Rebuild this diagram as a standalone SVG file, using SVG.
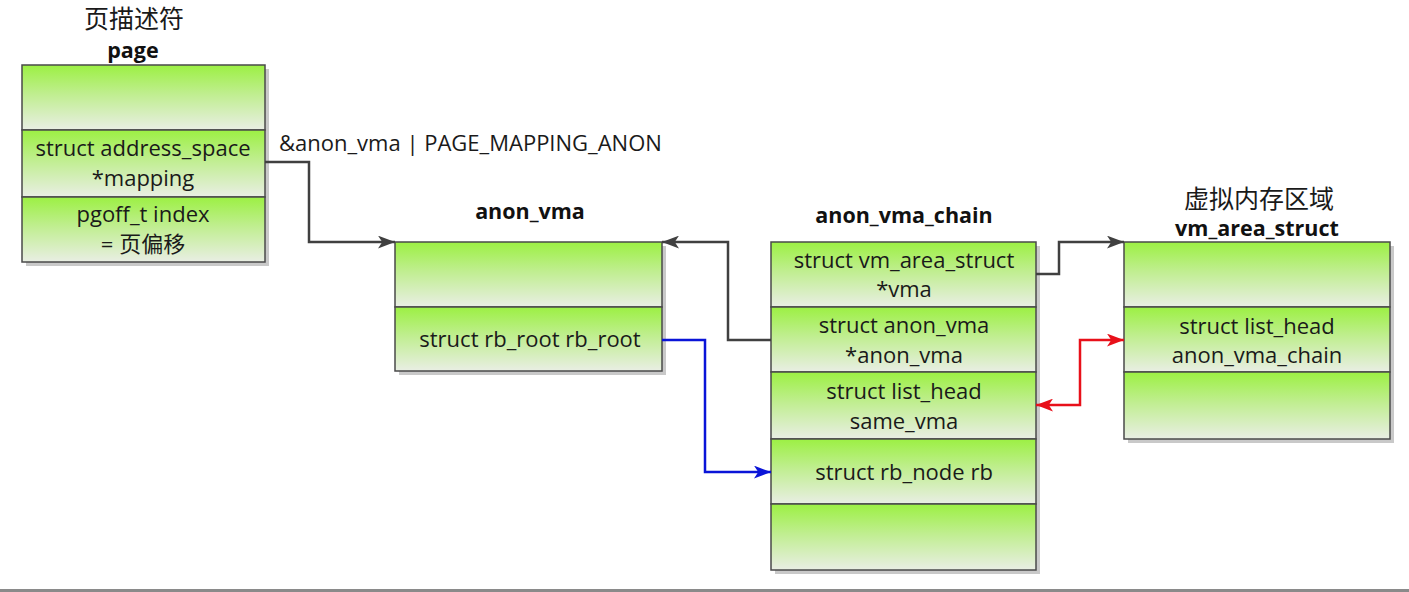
<svg xmlns="http://www.w3.org/2000/svg" width="1409" height="592" viewBox="0 0 1409 592">
<defs>
<linearGradient id="g" x1="0" y1="0" x2="0" y2="1">
<stop offset="0" stop-color="#9cf043"/>
<stop offset="0.45" stop-color="#c0ee90"/>
<stop offset="1" stop-color="#e9eee4"/>
</linearGradient>
<marker id="ahd" viewBox="0 0 16 12" refX="16" refY="6" markerWidth="17" markerHeight="13" markerUnits="userSpaceOnUse" orient="auto-start-reverse">
<path d="M0,0 L16,6 L0,12 L4,6 Z" fill="#404040"/>
</marker>
<marker id="ahb" viewBox="0 0 16 12" refX="16" refY="6" markerWidth="17" markerHeight="13" markerUnits="userSpaceOnUse" orient="auto-start-reverse">
<path d="M0,0 L16,6 L0,12 L4,6 Z" fill="#0a14d8"/>
</marker>
<marker id="ahr" viewBox="0 0 16 12" refX="16" refY="6" markerWidth="17" markerHeight="13" markerUnits="userSpaceOnUse" orient="auto-start-reverse">
<path d="M0,0 L16,6 L0,12 L4,6 Z" fill="#e8101a"/>
</marker>
</defs>
<style>
.sh{fill:#c9c9c9}
.cell{fill:url(#g);stroke:#4a4a4a;stroke-width:1.5}
.t{font-family:"Open Sans","Liberation Sans","Noto Sans CJK SC",sans-serif;font-size:22px;fill:#1a1a1a;text-anchor:middle}
.b{font-family:"Open Sans","Liberation Sans","Noto Sans CJK SC",sans-serif;font-size:21.5px;font-weight:bold;fill:#111;text-anchor:middle}
.c{font-family:"Noto Sans CJK SC",sans-serif;font-size:25px;fill:#1a1a1a;text-anchor:middle}
.w{fill:none;stroke-width:2.5}
</style>
<rect width="1409" height="592" fill="#fff"/>

<g id="page">
<rect class="sh" x="26" y="69" width="243" height="197"/>
<rect class="cell" x="22" y="65" width="243" height="65"/>
<rect class="cell" x="22" y="130" width="243" height="67"/>
<rect class="cell" x="22" y="197" width="243" height="65"/>
<text class="c" x="134" y="28">页描述符</text>
<text class="b" x="133" y="58">page</text>
<text class="t" x="143" y="156">struct address_space</text>
<text class="t" x="143" y="186">*mapping</text>
<text class="t" x="143" y="222">pgoff_t index</text>
<text class="t" x="143" y="252">= 页偏移</text>
</g>

<g id="anon_vma">
<rect class="sh" x="399" y="246" width="267" height="129"/>
<rect class="cell" x="395" y="242" width="267" height="65"/>
<rect class="cell" x="395" y="307" width="267" height="64"/>
<text class="b" x="530" y="219">anon_vma</text>
<text class="t" x="530" y="347">struct rb_root rb_root</text>
</g>

<g id="anon_vma_chain">
<rect class="sh" x="775" y="246" width="265" height="328"/>
<rect class="cell" x="771" y="242" width="265" height="65"/>
<rect class="cell" x="771" y="307" width="265" height="65"/>
<rect class="cell" x="771" y="372" width="265" height="67"/>
<rect class="cell" x="771" y="439" width="265" height="65"/>
<rect class="cell" x="771" y="504" width="265" height="66"/>
<text class="b" x="904" y="223">anon_vma_chain</text>
<text class="t" x="904" y="268">struct vm_area_struct</text>
<text class="t" x="904" y="297">*vma</text>
<text class="t" x="904" y="333">struct anon_vma</text>
<text class="t" x="904" y="363">*anon_vma</text>
<text class="t" x="904" y="399">struct list_head</text>
<text class="t" x="904" y="429">same_vma</text>
<text class="t" x="904" y="480">struct rb_node rb</text>
</g>

<g id="vm_area_struct">
<rect class="sh" x="1128" y="246" width="266" height="197"/>
<rect class="cell" x="1124" y="242" width="266" height="65"/>
<rect class="cell" x="1124" y="307" width="266" height="65"/>
<rect class="cell" x="1124" y="372" width="266" height="67"/>
<text class="c" x="1259" y="208">虚拟内存区域</text>
<text class="b" x="1257" y="236">vm_area_struct</text>
<text class="t" x="1257" y="334">struct list_head</text>
<text class="t" x="1257" y="363">anon_vma_chain</text>
</g>

<g id="connectors">
<path class="w" stroke="#404040" d="M265,162 H309 V242 H395" marker-end="url(#ahd)"/>
<text class="t" x="279" y="151" style="text-anchor:start">&amp;anon_vma | PAGE_MAPPING_ANON</text>
<path class="w" stroke="#404040" d="M771,340 H728 V242 H662" marker-end="url(#ahd)"/>
<path class="w" stroke="#404040" d="M1036,274 H1059 V242 H1124" marker-end="url(#ahd)"/>
<path class="w" stroke="#0a14d8" d="M662,340 H705 V472 H771" marker-end="url(#ahb)"/>
<path class="w" stroke="#e8101a" d="M1036,405 H1080 V340 H1124" marker-start="url(#ahr)" marker-end="url(#ahr)"/>
</g>
<rect x="0" y="589" width="1409" height="3" fill="#8a8a8a"/>
</svg>
